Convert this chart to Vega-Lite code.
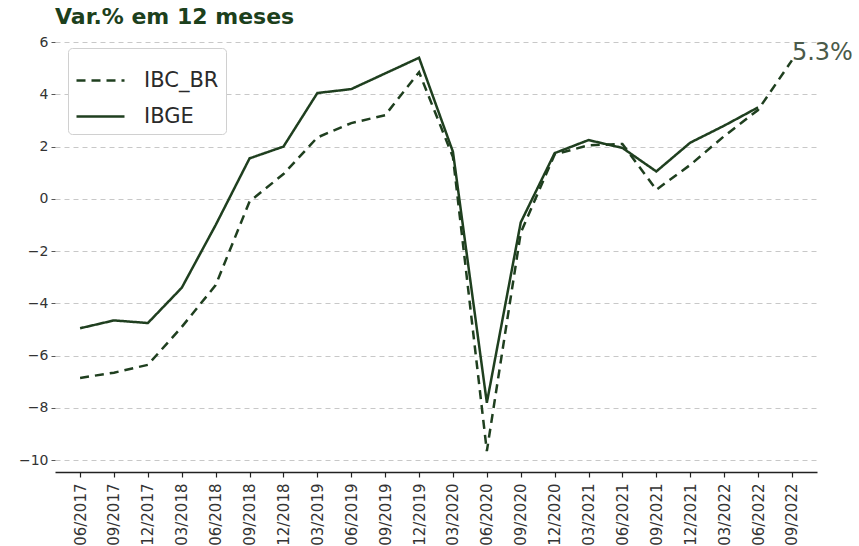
{
  "$schema": "https://vega.github.io/schema/vega-lite/v6.json",
  "autosize": "none",
  "width": 762,
  "height": 437,
  "padding": {"left": 55, "top": 35, "right": 42, "bottom": 74},
  "background": "white",
  "config": {
    "font": "DejaVu Sans",
    "view": {"stroke": null}
  },
  "title": {
    "text": "Var.% em 12 meses",
    "anchor": "start",
    "frame": "group",
    "font": "DejaVu Sans",
    "fontSize": 22,
    "fontWeight": "bold",
    "color": "#1c401c",
    "offset": 6
  },
  "datasets": {
    "series": [
      {"date": "06/2017", "series": "IBC_BR", "value": -6.85},
      {"date": "09/2017", "series": "IBC_BR", "value": -6.65},
      {"date": "12/2017", "series": "IBC_BR", "value": -6.35},
      {"date": "03/2018", "series": "IBC_BR", "value": -4.9},
      {"date": "06/2018", "series": "IBC_BR", "value": -3.3},
      {"date": "09/2018", "series": "IBC_BR", "value": -0.1},
      {"date": "12/2018", "series": "IBC_BR", "value": 0.95},
      {"date": "03/2019", "series": "IBC_BR", "value": 2.35},
      {"date": "06/2019", "series": "IBC_BR", "value": 2.9},
      {"date": "09/2019", "series": "IBC_BR", "value": 3.2},
      {"date": "12/2019", "series": "IBC_BR", "value": 4.85},
      {"date": "03/2020", "series": "IBC_BR", "value": 1.6},
      {"date": "06/2020", "series": "IBC_BR", "value": -9.65},
      {"date": "09/2020", "series": "IBC_BR", "value": -1.3},
      {"date": "12/2020", "series": "IBC_BR", "value": 1.7},
      {"date": "03/2021", "series": "IBC_BR", "value": 2.05},
      {"date": "06/2021", "series": "IBC_BR", "value": 2.1},
      {"date": "09/2021", "series": "IBC_BR", "value": 0.35},
      {"date": "12/2021", "series": "IBC_BR", "value": 1.3},
      {"date": "03/2022", "series": "IBC_BR", "value": 2.4},
      {"date": "06/2022", "series": "IBC_BR", "value": 3.4},
      {"date": "09/2022", "series": "IBC_BR", "value": 5.3},
      {"date": "06/2017", "series": "IBGE", "value": -4.95},
      {"date": "09/2017", "series": "IBGE", "value": -4.65},
      {"date": "12/2017", "series": "IBGE", "value": -4.75},
      {"date": "03/2018", "series": "IBGE", "value": -3.4},
      {"date": "06/2018", "series": "IBGE", "value": -1.0},
      {"date": "09/2018", "series": "IBGE", "value": 1.55},
      {"date": "12/2018", "series": "IBGE", "value": 2.0},
      {"date": "03/2019", "series": "IBGE", "value": 4.05},
      {"date": "06/2019", "series": "IBGE", "value": 4.2},
      {"date": "09/2019", "series": "IBGE", "value": 4.8},
      {"date": "12/2019", "series": "IBGE", "value": 5.4},
      {"date": "03/2020", "series": "IBGE", "value": 1.8},
      {"date": "06/2020", "series": "IBGE", "value": -7.8},
      {"date": "09/2020", "series": "IBGE", "value": -0.9},
      {"date": "12/2020", "series": "IBGE", "value": 1.75},
      {"date": "03/2021", "series": "IBGE", "value": 2.25},
      {"date": "06/2021", "series": "IBGE", "value": 1.95},
      {"date": "09/2021", "series": "IBGE", "value": 1.05},
      {"date": "12/2021", "series": "IBGE", "value": 2.15},
      {"date": "03/2022", "series": "IBGE", "value": 2.8},
      {"date": "06/2022", "series": "IBGE", "value": 3.5}
    ],
    "labels": [
      {"date": "09/2022", "value": 5.3, "label": "5.3%"}
    ]
  },
  "encoding": {
    "x": {
      "field": "date",
      "type": "ordinal",
      "scale": {
        "type": "point",
        "padding": 0.74,
        "domain": ["06/2017","09/2017","12/2017","03/2018","06/2018","09/2018","12/2018","03/2019","06/2019","09/2019","12/2019","03/2020","06/2020","09/2020","12/2020","03/2021","06/2021","09/2021","12/2021","03/2022","06/2022","09/2022"]
      },
      "axis": {
        "title": null,
        "labelAngle": -90,
        "labelFontSize": 15,
        "labelColor": "#333333",
        "labelPadding": 6,
        "domainColor": "#222222",
        "domainWidth": 1.6,
        "tickColor": "#222222",
        "tickSize": 5,
        "tickWidth": 1.2,
        "grid": false
      }
    },
    "y": {
      "field": "value",
      "type": "quantitative",
      "scale": {"domain": [-10.45, 6.27], "nice": false, "zero": false},
      "axis": {
        "title": null,
        "values": [-10, -8, -6, -4, -2, 0, 2, 4, 6],
        "labelFontSize": 14,
        "labelColor": "#333333",
        "labelPadding": 3,
        "domain": false,
        "tickColor": "#555555",
        "tickSize": 4,
        "grid": true,
        "gridColor": "#c8c8c8",
        "gridDash": [5, 4],
        "gridWidth": 1
      }
    }
  },
  "layer": [
    {
      "data": {"name": "series"},
      "mark": {"type": "line", "color": "#1f3f1f", "strokeWidth": 2.5},
      "encoding": {
        "detail": {"field": "series"},
        "strokeDash": {
          "field": "series",
          "type": "nominal",
          "scale": {"domain": ["IBC_BR", "IBGE"], "range": [[9, 6], [1, 0]]},
          "legend": {
            "title": null,
            "orient": "none",
            "legendX": 13,
            "legendY": 13,
            "fillColor": "white",
            "strokeColor": "#d0d0d0",
            "cornerRadius": 4,
            "padding": 7,
            "symbolType": "stroke",
            "symbolSize": 2304,
            "symbolStrokeWidth": 2.5,
            "symbolStrokeColor": "#1f3f1f",
            "labelFontSize": 21,
            "labelColor": "#2a2a2a",
            "labelOffset": 18,
            "rowPadding": -17
          }
        }
      }
    },
    {
      "data": {"name": "labels"},
      "mark": {"type": "text", "align": "left", "baseline": "alphabetic", "dx": 0, "dy": 0, "fontSize": 24, "color": "#4a5a4a", "font": "DejaVu Sans"},
      "encoding": {
        "text": {"field": "label"}
      }
    }
  ]
}
